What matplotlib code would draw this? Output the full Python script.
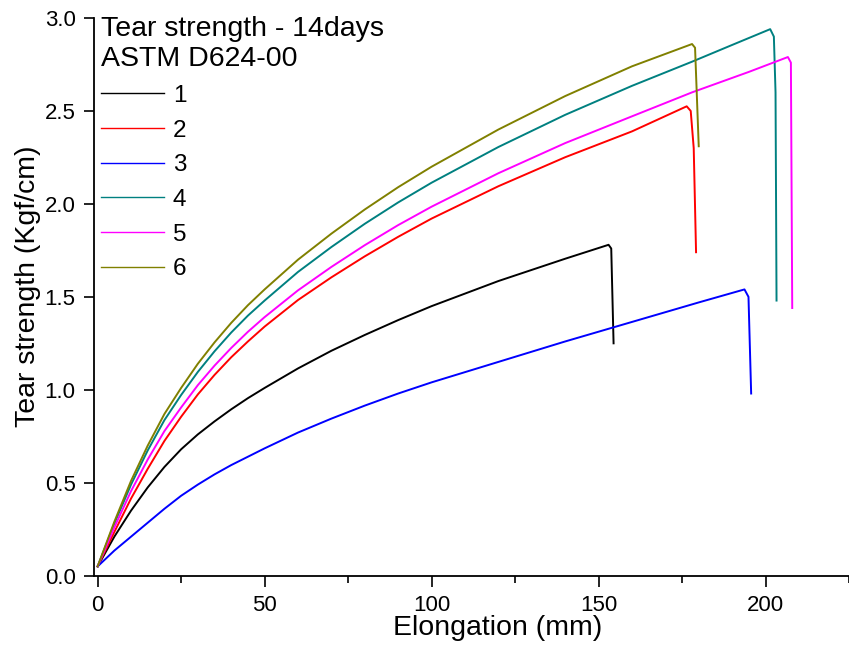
import matplotlib
matplotlib.use("Agg")
import matplotlib.pyplot as plt

plt.rcParams['font.family'] = ['Liberation Sans', 'DejaVu Sans']

# ---- data ----
labels = ["1", "2", "3", "4", "5", "6"]
colors = ["#000000", "#ff0000", "#0000ff", "#008080", "#ff00ff", "#808000"]

x1 = [0, 5, 10, 15, 20, 25, 30, 35, 40, 45, 50, 60, 70, 80, 90, 100, 120, 140, 153, 153.8, 154.5]
y1 = [0.05, 0.21, 0.35, 0.475, 0.585, 0.68, 0.76, 0.83, 0.895, 0.955, 1.01, 1.115, 1.21, 1.295, 1.375, 1.45,
      1.585, 1.705, 1.78, 1.76, 1.25]

x2 = [0, 5, 10, 15, 20, 25, 30, 35, 40, 45, 50, 60, 70, 80, 90, 100, 120, 140, 160, 176.4, 177.6, 178.5, 179.2]
y2 = [0.05, 0.235, 0.415, 0.575, 0.725, 0.855, 0.975, 1.08, 1.175, 1.26, 1.34, 1.483, 1.605, 1.718, 1.823, 1.921,
      2.095, 2.251, 2.39, 2.525, 2.50, 2.30, 1.74]

x3 = [0, 5, 10, 15, 20, 25, 30, 35, 40, 45, 50, 60, 70, 80, 90, 100, 120, 140, 160, 180, 193.7, 194.9, 195.7]
y3 = [0.05, 0.135, 0.21, 0.285, 0.36, 0.43, 0.49, 0.545, 0.595, 0.64, 0.685, 0.77, 0.845, 0.915, 0.98, 1.04,
      1.15, 1.26, 1.365, 1.47, 1.54, 1.50, 0.98]

x4 = [0, 5, 10, 15, 20, 25, 30, 35, 40, 45, 50, 60, 70, 80, 90, 100, 120, 140, 160, 178, 190, 201.4, 202.5, 203.0, 203.3]
y4 = [0.05, 0.28, 0.49, 0.674, 0.837, 0.972, 1.096, 1.207, 1.308, 1.399, 1.48, 1.634, 1.768, 1.893, 2.008, 2.114,
      2.306, 2.479, 2.635, 2.765, 2.855, 2.94, 2.90, 2.60, 1.48]

x5 = [0, 5, 10, 15, 20, 25, 30, 35, 40, 45, 50, 60, 70, 80, 90, 100, 120, 140, 160, 178, 195, 206.7, 207.6, 208.0]
y5 = [0.05, 0.26, 0.455, 0.625, 0.778, 0.905, 1.025, 1.13, 1.225, 1.312, 1.391, 1.535, 1.661, 1.778, 1.886, 1.985,
      2.165, 2.327, 2.471, 2.60, 2.71, 2.79, 2.76, 1.44]

x6 = [0, 5, 10, 15, 20, 25, 30, 35, 40, 45, 50, 60, 70, 80, 90, 100, 120, 140, 160, 178, 178.9, 179.4, 180.0]
y6 = [0.05, 0.29, 0.51, 0.70, 0.87, 1.01, 1.14, 1.255, 1.36, 1.455, 1.54, 1.70, 1.84, 1.97, 2.09, 2.20,
      2.40, 2.58, 2.74, 2.86, 2.84, 2.60, 2.31]

xs = [x1, x2, x3, x4, x5, x6]
ys = [y1, y2, y3, y4, y5, y6]

x_ticks = [0, 50, 100, 150, 200]
y_ticks = [0.0, 0.5, 1.0, 1.5, 2.0, 2.5, 3.0]

legend_title = "Tear strength - 14days\nASTM D624-00"
xlabel = "Elongation (mm)"
ylabel = "Tear strength (Kgf/cm)"

# ---- figure ----
W, H = 849, 651
fig = plt.figure(figsize=(W / 100, H / 100), dpi=100)
ax = fig.add_axes([94.3 / W, (H - 575.7) / H, (W - 94.3) / W, (575.7 - 18) / H])

for x, y, c, lab in zip(xs, ys, colors, labels):
    ax.plot(x, y, color=c, lw=1.4, label=lab, solid_joinstyle='round')

ax.set_xlim(-1.0, 224.3)
ax.set_ylim(0.0, 3.0)
ax.set_xticks(x_ticks)
ax.set_xticks([25, 75, 125, 175, 225], minor=True)
ax.set_yticks(y_ticks)
ax.set_yticklabels([f"{v:.1f}" for v in y_ticks])

for s in ["top", "right"]:
    ax.spines[s].set_visible(False)
for s in ["left", "bottom"]:
    ax.spines[s].set_linewidth(1.3)

ax.tick_params(axis='both', which='major', direction='out', width=1.2, labelsize=16)
ax.tick_params(axis='x', which='major', length=8, pad=6)
ax.tick_params(axis='x', which='minor', length=5, width=1.2)
ax.tick_params(axis='y', which='major', length=7.5, pad=6)

ax.set_xlabel(xlabel, fontsize=20.5)
ax.xaxis.set_label_coords(0.535, -0.070)
ax.set_ylabel(ylabel, fontsize=20.5)
ax.yaxis.set_label_coords(-0.070, 0.519)

leg = ax.legend(title=legend_title, loc='upper left', bbox_to_anchor=(0.0089, 1.003),
                frameon=False, fontsize=17.5, title_fontsize=20.5, alignment='left',
                borderpad=0, borderaxespad=0, handlelength=2.6, handletextpad=0.35,
                labelspacing=0.52)
leg.get_title().set_linespacing(1.2)
for ln in leg.get_lines():
    ln.set_linewidth(1.0)

fig.savefig("out.png", dpi=100)
